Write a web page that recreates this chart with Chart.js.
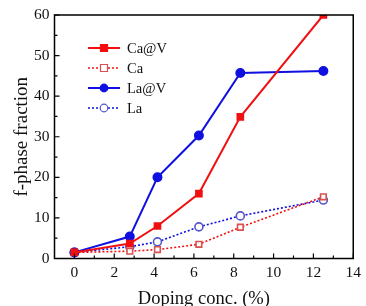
<!DOCTYPE html>
<html>
<head>
<meta charset="utf-8">
<script src="https://cdn.jsdelivr.net/npm/chart.js@4"></script>
<style>
    html, body { margin: 0; padding: 0; background: #fff; }
    #wrap { width: 366px; height: 306px; }
</style>
</head>
<body>
<div id="wrap"><canvas id="chart" width="366" height="306"></canvas></div>
<script>
// doping concentration (%)
const doping = [0, 2.78, 4.17, 6.25, 8.33, 12.5];

const caV = [1.5, 3.7, 8.0, 16.0, 34.9, 60.0];
const ca = [1.5, 1.8, 2.2, 3.5, 7.7, 15.2];
const laV = [1.5, 5.4, 20.0, 30.3, 45.7, 46.2];
const la = [1.5, 2.9, 4.1, 7.8, 10.5, 14.4];

const xTicks = [0, 2, 4, 6, 8, 10, 12, 14];
const xMinor = [1, 3, 5, 7, 9, 11, 13];
const yTicks = [0, 10, 20, 30, 40, 50, 60];
const yMinor = [5, 15, 25, 35, 45, 55];

const RED = '#f01010';
const BLUE = '#1010e0';
const serif = '"Liberation Serif", "Times New Roman", serif';

function points(values) {
    return values.map((v, i) => ({x: doping[i], y: v}));
}

// frame, inward ticks and the little legend in the top-left corner
const framePlugin = {
    id: 'frame',
    afterDraw(c) {
        let ctx = c.ctx;
        let a = c.chartArea;
        let xs = c.scales.x, ys = c.scales.y;
        ctx.save();
        ctx.strokeStyle = '#000';
        ctx.lineWidth = 1.5;
        ctx.strokeRect(a.left, a.top, a.right - a.left, a.bottom - a.top);

        ctx.lineWidth = 1.2;
        ctx.beginPath();
        xTicks.forEach(v => {
            let px = xs.getPixelForValue(v);
            ctx.moveTo(px, a.bottom); ctx.lineTo(px, a.bottom - 5);
        });
        xMinor.forEach(v => {
            let px = xs.getPixelForValue(v);
            ctx.moveTo(px, a.bottom); ctx.lineTo(px, a.bottom - 3);
        });
        yTicks.forEach(v => {
            let py = ys.getPixelForValue(v);
            ctx.moveTo(a.left, py); ctx.lineTo(a.left + 5, py);
        });
        yMinor.forEach(v => {
            let py = ys.getPixelForValue(v);
            ctx.moveTo(a.left, py); ctx.lineTo(a.left + 3, py);
        });
        ctx.stroke();

        // legend
        let rows = c.data.datasets;
        ctx.font = '14.5px ' + serif;
        ctx.textBaseline = 'middle';
        rows.forEach((ds, i) => {
            let y = 48 + i * 20;
            ctx.strokeStyle = ds.borderColor;
            ctx.lineWidth = ds.borderWidth;
            ctx.setLineDash(ds.borderDash || []);
            ctx.beginPath();
            ctx.moveTo(88, y); ctx.lineTo(120, y);
            ctx.stroke();
            ctx.setLineDash([]);
            ctx.fillStyle = ds.pointBackgroundColor;
            ctx.strokeStyle = ds.pointBorderColor;
            ctx.lineWidth = 1.2;
            ctx.beginPath();
            if (ds.pointStyle === 'rect') {
                ctx.rect(104 - 3.5, y - 3.5, 7, 7);
            } else {
                ctx.arc(104, y, 3.8, 0, Math.PI * 2);
            }
            ctx.fill();
            ctx.stroke();
            ctx.fillStyle = '#111';
            ctx.fillText(ds.label, 127, y + 1);
        });
        ctx.restore();
    }
};

let myChart = new Chart(document.getElementById('chart'), {
    type: 'line',
    data: {
        datasets: [{
            label: 'Ca@V',
            data: points(caV),
            borderColor: RED,
            borderWidth: 2,
            pointStyle: 'rect',
            pointRadius: 4,
            pointBackgroundColor: RED,
            pointBorderColor: RED
        }, {
            label: 'Ca',
            data: points(ca),
            borderColor: RED,
            borderWidth: 1.6,
            borderDash: [2, 2],
            pointStyle: 'rect',
            pointRadius: 4,
            pointBackgroundColor: '#fff',
            pointBorderColor: '#d85050'
        }, {
            label: 'La@V',
            data: points(laV),
            borderColor: BLUE,
            borderWidth: 2,
            pointStyle: 'circle',
            pointRadius: 4,
            pointBackgroundColor: BLUE,
            pointBorderColor: BLUE
        }, {
            label: 'La',
            data: points(la),
            borderColor: BLUE,
            borderWidth: 1.6,
            borderDash: [2, 2],
            pointStyle: 'circle',
            pointRadius: 4,
            pointBackgroundColor: '#fff',
            pointBorderColor: '#5555cc'
        }]
    },
    options: {
        responsive: false,
        animation: false,
        layout: { padding: { left: 0, top: 15, right: 8, bottom: 0 } },
        scales: {
            x: {
                type: 'linear',
                min: -1,
                max: 14,
                afterBuildTicks: (s) => { s.ticks = xTicks.map(v => ({value: v})); },
                afterFit: (s) => { s.height = 47.5; },
                grid: { display: false, drawTicks: false },
                border: { display: false },
                ticks: {
                    color: '#111',
                    padding: 5,
                    font: { family: serif, size: 15.5 }
                },
                title: {
                    display: true,
                    text: 'Doping conc. (%)',
                    color: '#111',
                    padding: { top: 0, bottom: -2 },
                    font: { family: serif, size: 18.5, lineHeight: 1 }
                }
            },
            y: {
                min: 0,
                max: 60,
                afterBuildTicks: (s) => { s.ticks = yTicks.map(v => ({value: v})); },
                afterFit: (s) => { s.width = 54.5; },
                grid: { display: false, drawTicks: false },
                border: { display: false },
                ticks: {
                    color: '#111',
                    padding: 5,
                    font: { family: serif, size: 15.5 }
                },
                title: {
                    display: true,
                    text: 'f-phase fraction',
                    color: '#111',
                    padding: { top: 13, bottom: 0 },
                    font: { family: serif, size: 19, lineHeight: 1 }
                }
            }
        },
        plugins: {
            legend: { display: false },
            tooltip: { enabled: false }
        }
    },
    plugins: [framePlugin]
});
</script>
</body>
</html>
